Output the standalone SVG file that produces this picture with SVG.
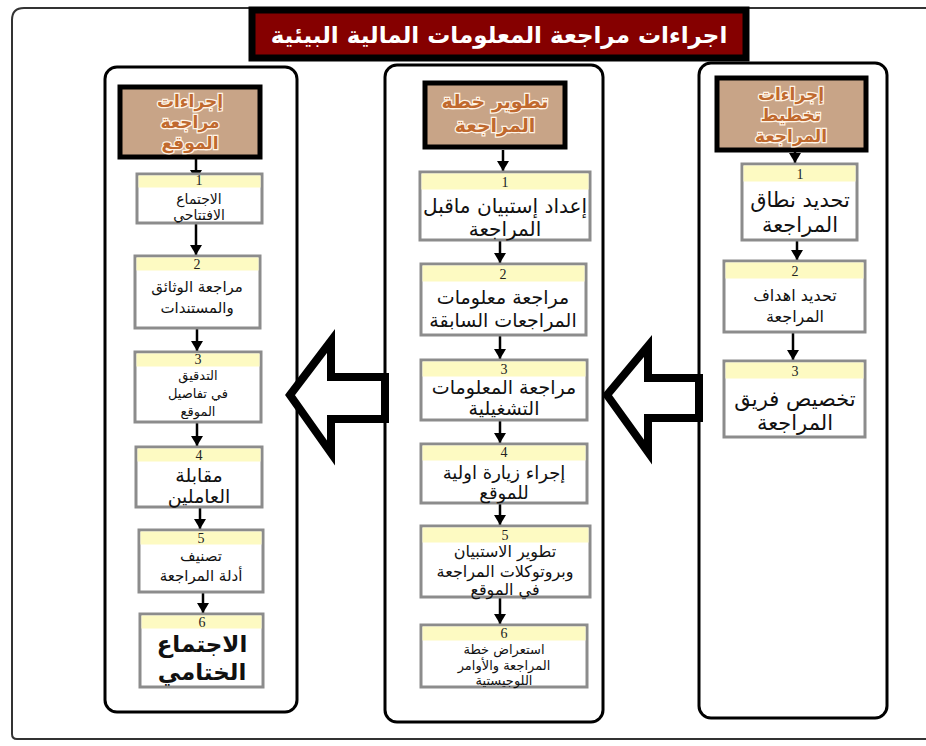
<svg xmlns="http://www.w3.org/2000/svg" width="926" height="746" viewBox="0 0 926 746">
<defs>
<style>
.col{fill:#fff;stroke:#000;stroke-width:3}
.hdr{fill:#c8a487;stroke:#000;stroke-width:5}
.box{fill:#fff;stroke:#8c8c8c;stroke-width:3}
.strip{fill:#fdfac2;stroke:none}
.num{font-family:"Liberation Serif",serif;font-size:14px;fill:#222;text-anchor:middle}
.t{font-family:"DejaVu Sans",sans-serif;fill:#111;text-anchor:middle}
.ht{font-family:"DejaVu Sans",sans-serif;font-weight:bold;fill:#c0692e;stroke:#fff4e6;stroke-width:2.5;paint-order:stroke;text-anchor:middle}
.con{stroke:#000;stroke-width:2.5;fill:none}
.big{fill:#fff;stroke:#000;stroke-width:8;stroke-linejoin:miter}
</style>
<marker id="ah" markerUnits="userSpaceOnUse" markerWidth="12" markerHeight="12" refX="11" refY="6" orient="auto" viewBox="0 0 12 12">
<path d="M1,0 L11,6 L1,12 Z" fill="#000"/>
</marker>
</defs>
<rect width="926" height="746" fill="#fff"/>
<path d="M250,8 H24 Q12,8 12,20 V734 Q12,739 17,739 H926 M748,8 H926" fill="none" stroke="#333" stroke-width="2"/>

<g id="title">
<rect x="252" y="10" width="494" height="48" fill="#850000" stroke="#000" stroke-width="7"/>
<text x="499" y="43" font-family="DejaVu Sans,sans-serif" font-weight="bold" font-size="23" fill="#fff" text-anchor="middle">اجراءات مراجعة المعلومات المالية البيئية</text>
</g>

<g id="col-right"><rect class="col" x="699" y="63" width="188" height="655" rx="12"/></g>
<g id="col-mid"><rect class="col" x="385" y="65" width="218" height="657" rx="12"/></g>
<g id="col-left"><rect class="col" x="105" y="67" width="192" height="645" rx="12"/></g>

<g id="big-arrows">
<polygon class="big" points="290,395 331,341 331,377 385,377 385,419 331,419 331,453"/>
<polygon class="big" points="607,395 648,346 648,378 699,378 699,418 648,418 648,452"/>
</g>

<g id="connectors">
<line class="con" x1="795" y1="152" x2="795" y2="163" marker-end="url(#ah)"/>
<line class="con" x1="797" y1="241" x2="797" y2="260" marker-end="url(#ah)"/>
<line class="con" x1="793" y1="333" x2="793" y2="360" marker-end="url(#ah)"/>
<line class="con" x1="503" y1="150" x2="503" y2="171" marker-end="url(#ah)"/>
<line class="con" x1="500" y1="241" x2="500" y2="263" marker-end="url(#ah)"/>
<line class="con" x1="500" y1="336" x2="500" y2="359" marker-end="url(#ah)"/>
<line class="con" x1="500" y1="421" x2="500" y2="443" marker-end="url(#ah)"/>
<line class="con" x1="500" y1="504" x2="500" y2="525" marker-end="url(#ah)"/>
<line class="con" x1="500" y1="598" x2="500" y2="624" marker-end="url(#ah)"/>
<line class="con" x1="196" y1="158" x2="196" y2="180" marker-end="url(#ah)"/>
<line class="con" x1="196" y1="224" x2="196" y2="255" marker-end="url(#ah)"/>
<line class="con" x1="197" y1="329" x2="197" y2="351" marker-end="url(#ah)"/>
<line class="con" x1="197" y1="423" x2="197" y2="446" marker-end="url(#ah)"/>
<line class="con" x1="200" y1="508" x2="200" y2="529" marker-end="url(#ah)"/>
<line class="con" x1="203" y1="593" x2="203" y2="613" marker-end="url(#ah)"/>
</g>

<g id="hdr-right">
<rect class="hdr" x="717" y="78" width="149" height="72"/>
<text class="ht" x="791" y="100" font-size="17">إجراءات</text>
<text class="ht" x="791" y="121" font-size="17">تخطيط</text>
<text class="ht" x="791" y="142" font-size="17">المراجعة</text>
</g>
<g id="r1">
<rect class="box" x="742" y="164" width="115" height="76"/><rect class="strip" x="743.5" y="165.5" width="112" height="16"/>
<text class="num" x="800" y="179">1</text>
<text class="t" x="800" y="207" font-size="21">تحديد نطاق</text>
<text class="t" x="800" y="232" font-size="21">المراجعة</text>
</g>
<g id="r2">
<rect class="box" x="724" y="261" width="141" height="71"/><rect class="strip" x="725.5" y="262.5" width="138" height="16"/>
<text class="num" x="795" y="276">2</text>
<text class="t" x="795" y="301" font-size="16">تحديد اهداف</text>
<text class="t" x="795" y="322" font-size="16">المراجعة</text>
</g>
<g id="r3">
<rect class="box" x="724" y="361" width="141" height="76"/><rect class="strip" x="725.5" y="362.5" width="138" height="16"/>
<text class="num" x="795" y="376">3</text>
<text class="t" x="795" y="406" font-size="21">تخصيص فريق</text>
<text class="t" x="795" y="430" font-size="21">المراجعة</text>
</g>

<g id="hdr-mid">
<rect class="hdr" x="425" y="83" width="140" height="64"/>
<text class="ht" x="495" y="108" font-size="19">تطوير خطة</text>
<text class="ht" x="495" y="132" font-size="19">المراجعة</text>
</g>
<g id="m1">
<rect class="box" x="420" y="172" width="170" height="68"/><rect class="strip" x="421.5" y="173.5" width="167" height="16"/>
<text class="num" x="505" y="187">1</text>
<text class="t" x="505" y="213" font-size="20">إعداد إستبيان ماقبل</text>
<text class="t" x="505" y="236" font-size="20">المراجعة</text>
</g>
<g id="m2">
<rect class="box" x="421" y="264" width="165" height="71"/><rect class="strip" x="422.5" y="265.5" width="162" height="16"/>
<text class="num" x="503" y="279">2</text>
<text class="t" x="503" y="304" font-size="19">مراجعة معلومات</text>
<text class="t" x="503" y="327" font-size="19">المراجعات السابقة</text>
</g>
<g id="m3">
<rect class="box" x="421" y="360" width="166" height="60"/><rect class="strip" x="422.5" y="361.5" width="163" height="15"/>
<text class="num" x="504" y="374">3</text>
<text class="t" x="504" y="394" font-size="19">مراجعة المعلومات</text>
<text class="t" x="504" y="415" font-size="19">التشغيلية</text>
</g>
<g id="m4">
<rect class="box" x="421" y="444" width="166" height="59"/><rect class="strip" x="422.5" y="445.5" width="163" height="15"/>
<text class="num" x="504" y="457">4</text>
<text class="t" x="504" y="479" font-size="18">إجراء زيارة اولية</text>
<text class="t" x="504" y="499" font-size="18">للموقع</text>
</g>
<g id="m5">
<rect class="box" x="421" y="526" width="169" height="71"/><rect class="strip" x="422.5" y="527.5" width="166" height="15"/>
<text class="num" x="505" y="540">5</text>
<text class="t" x="505" y="557" font-size="16">تطوير الاستبيان</text>
<text class="t" x="505" y="577" font-size="16">وبروتوكلات المراجعة</text>
<text class="t" x="505" y="595" font-size="16">في الموقع</text>
</g>
<g id="m6">
<rect class="box" x="421" y="625" width="166" height="62"/><rect class="strip" x="422.5" y="626.5" width="163" height="14"/>
<text class="num" x="504" y="638">6</text>
<text class="t" x="504" y="654" font-size="13">استعراض خطة</text>
<text class="t" x="504" y="670" font-size="13">المراجعة والأوامر</text>
<text class="t" x="504" y="685" font-size="13">اللوجيستية</text>
</g>

<g id="hdr-left">
<rect class="hdr" x="120" y="87" width="140" height="70"/>
<text class="ht" x="190" y="107" font-size="17">إجراءات</text>
<text class="ht" x="190" y="128" font-size="17">مراجعة</text>
<text class="ht" x="190" y="149" font-size="17">الموقع</text>
</g>
<g id="l1">
<rect class="box" x="137" y="174" width="125" height="49"/><rect class="strip" x="138.5" y="175.5" width="122" height="12"/>
<text class="num" x="199" y="185" font-size="12">1</text>
<text class="t" x="199" y="204" font-size="14">الاجتماع</text>
<text class="t" x="199" y="220" font-size="14">الافتتاحي</text>
</g>
<g id="l2">
<rect class="box" x="135" y="256" width="125" height="72"/><rect class="strip" x="136.5" y="257.5" width="122" height="13"/>
<text class="num" x="197" y="269">2</text>
<text class="t" x="197" y="292" font-size="15">مراجعة الوثائق</text>
<text class="t" x="197" y="313" font-size="15">والمستندات</text>
</g>
<g id="l3">
<rect class="box" x="135" y="352" width="126" height="70"/><rect class="strip" x="136.5" y="353.5" width="123" height="13"/>
<text class="num" x="198" y="364">3</text>
<text class="t" x="198" y="380" font-size="13">التدقيق</text>
<text class="t" x="198" y="398" font-size="13">في تفاصيل</text>
<text class="t" x="198" y="416" font-size="13">الموقع</text>
</g>
<g id="l4">
<rect class="box" x="136" y="447" width="126" height="60"/><rect class="strip" x="137.5" y="448.5" width="123" height="13"/>
<text class="num" x="199" y="460">4</text>
<text class="t" x="199" y="482" font-size="19">مقابلة</text>
<text class="t" x="199" y="503" font-size="19">العاملين</text>
</g>
<g id="l5">
<rect class="box" x="139" y="530" width="124" height="62"/><rect class="strip" x="140.5" y="531.5" width="121" height="13"/>
<text class="num" x="201" y="543">5</text>
<text class="t" x="201" y="561" font-size="15">تصنيف</text>
<text class="t" x="201" y="581" font-size="15">أدلة المراجعة</text>
</g>
<g id="l6">
<rect class="box" x="140" y="614" width="123" height="73"/><rect class="strip" x="141.5" y="615.5" width="120" height="13"/>
<text class="num" x="202" y="627">6</text>
<text class="t" x="202" y="652" font-size="23" font-weight="bold">الاجتماع</text>
<text class="t" x="202" y="680" font-size="23" font-weight="bold">الختامي</text>
</g>
</svg>
